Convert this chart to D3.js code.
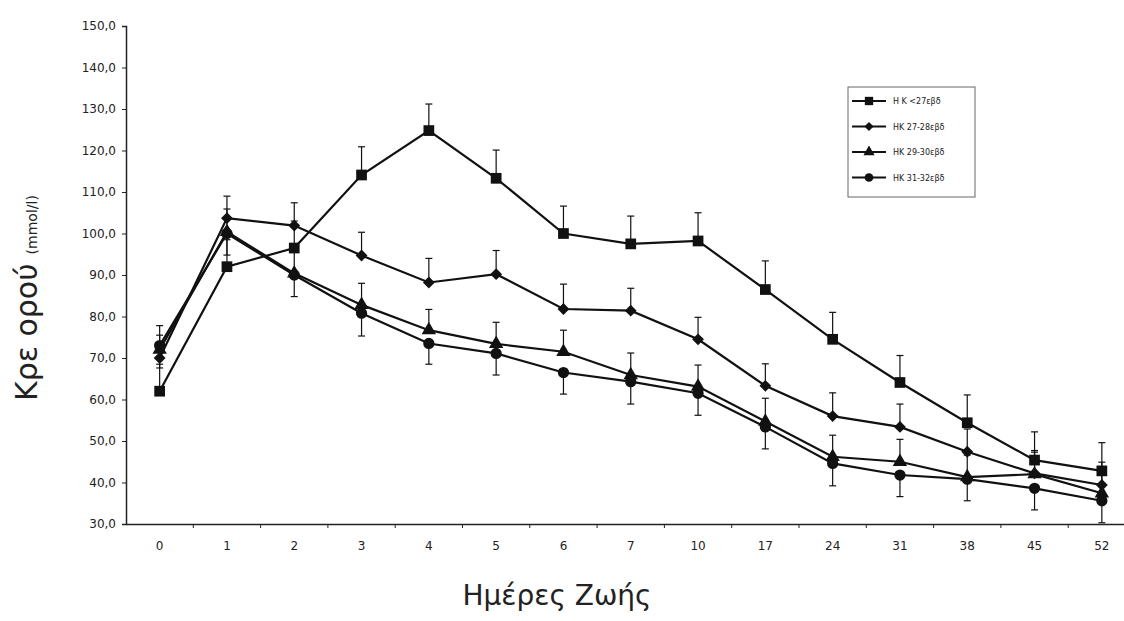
<!DOCTYPE html>
<html>
<head>
<meta charset="utf-8">
<script src="https://cdn.jsdelivr.net/npm/d3@7"></script>
<style>
  html, body { margin: 0; padding: 0; background: #fff; }
  svg { display: block; }
  text { font-family: "DejaVu Sans", Verdana, sans-serif; fill: #222; }
</style>
</head>
<body>
<svg id="chart" width="1124" height="621"></svg>
<script>
// Days of life (categorical x axis)
const days = ["0", "1", "2", "3", "4", "5", "6", "7", "10", "17", "24", "31", "38", "45", "52"];

// Series names (gestational age groups)
const seriesNames = ["H K <27εβδ", "HK 27-28εβδ", "HK 29-30εβδ", "HK 31-32εβδ"];

// Mean serum creatinine per group
const under27   = [62.0, 92.0, 96.5, 114.1, 124.8, 113.3, 100.0, 97.5, 98.2, 86.5, 74.5, 64.1, 54.4, 45.4, 42.8];
const weeks2728 = [70.0, 103.7, 101.9, 94.7, 88.2, 90.2, 81.8, 81.4, 74.5, 63.3, 56.0, 53.4, 47.4, 42.2, 39.4];
const weeks2930 = [72.0, 100.4, 90.4, 82.8, 76.7, 73.4, 71.5, 65.9, 63.1, 54.7, 46.2, 45.0, 41.3, 42.0, 37.4];
const weeks3132 = [73.0, 100.0, 90.0, 80.8, 73.5, 71.1, 66.5, 64.3, 61.5, 53.4, 44.6, 41.8, 40.8, 38.6, 35.6];

// Error bar half-lengths
const err27   = [6.5, 6.5, 6.5, 6.8, 6.4, 6.8, 6.6, 6.7, 6.8, 6.9, 6.5, 6.5, 6.7, 6.8, 6.8];
const err2728 = [5.5, 5.3, 5.5, 5.6, 5.8, 5.7, 6.0, 5.4, 5.3, 5.3, 5.6, 5.5, 5.5, 5.5, 5.5];
const err2930 = [5.8, 5.5, 5.5, 5.2, 5.0, 5.2, 5.2, 5.3, 5.2, 5.6, 5.2, 5.4, 5.3, 5.3, 5.3];
const err3132 = [5.4, 5.2, 5.2, 5.5, 5.0, 5.2, 5.2, 5.4, 5.3, 5.3, 5.4, 5.2, 5.2, 5.2, 5.3];

// Y tick values
const yTicks = [30, 40, 50, 60, 70, 80, 90, 100, 110, 120, 130, 140, 150];

// Square-diamond marker (equal width and height)
const symbolRhomb = {
  draw(ctx, size) {
    const r = Math.sqrt(size / 2);
    ctx.moveTo(0, -r); ctx.lineTo(r, 0); ctx.lineTo(0, r); ctx.lineTo(-r, 0); ctx.closePath();
  }
};

const series = [
  { name: seriesNames[0], values: under27,   err: err27,   dir: 1,  symbol: d3.symbolSquare,   size: 115 },
  { name: seriesNames[1], values: weeks2728, err: err2728, dir: 1,  symbol: symbolRhomb,       size: 70 },
  { name: seriesNames[2], values: weeks2930, err: err2930, dir: 1,  symbol: d3.symbolTriangle, size: 90 },
  { name: seriesNames[3], values: weeks3132, err: err3132, dir: -1, symbol: d3.symbolCircle,   size: 100 }
];

const svg = d3.select("#chart");

const x = d3.scaleBand().domain(days).range([126, 126 + 15 * 67.3]);
const cx = d => x(d) + x.bandwidth() / 2;
const y = d3.scaleLinear().domain([30, 150]).range([524, 26]);

// Y axis
const yAxis = svg.append("g")
  .attr("transform", "translate(126,0)")
  .call(d3.axisLeft(y).tickValues(yTicks).tickSize(4).tickPadding(6)
    .tickFormat(d => d.toFixed(1).replace(".", ",")));
yAxis.select(".domain").attr("stroke", "#222").attr("stroke-width", 1.5);
yAxis.selectAll(".tick line").attr("stroke", "#222");
yAxis.selectAll(".tick text").style("font-size", "12px").attr("fill", "#222");

// X axis: labels at band centers, ticks at band boundaries
const xAxis = svg.append("g")
  .attr("transform", "translate(0,524)")
  .call(d3.axisBottom(x).tickSize(0).tickPadding(17));
xAxis.select(".domain").attr("stroke", "#222").attr("stroke-width", 1.5);
xAxis.selectAll(".tick text").style("font-size", "12px").attr("fill", "#222");
svg.append("g").selectAll("line")
  .data(days.slice(1))
  .join("line")
  .attr("x1", d => x(d)).attr("x2", d => x(d))
  .attr("y1", 524).attr("y2", 528)
  .attr("stroke", "#222").attr("stroke-width", 1);

// Axis titles
svg.append("text")
  .attr("transform", "translate(37,401) rotate(-90)")
  .style("font-size", "30px")
  .attr("fill", "#222")
  .text("Κρε ορού")
  .append("tspan")
  .attr("dx", 9)
  .style("font-size", "14px")
  .text("(mmol/l)");

svg.append("text")
  .attr("x", 557).attr("y", 605)
  .attr("text-anchor", "middle")
  .style("font-size", "28px")
  .attr("fill", "#222")
  .text("Ημέρες Ζωής");

// Error bars
const eb = svg.append("g").attr("stroke", "#111").attr("stroke-width", 1.2);
series.forEach(s => {
  const g = eb.append("g");
  g.selectAll("line.v").data(days).join("line").attr("class", "v")
    .attr("x1", d => cx(d)).attr("x2", d => cx(d))
    .attr("y1", (d, i) => y(s.values[i]))
    .attr("y2", (d, i) => y(s.values[i] + s.dir * s.err[i]));
  g.selectAll("line.c").data(days).join("line").attr("class", "c")
    .attr("x1", d => cx(d) - 3.5).attr("x2", d => cx(d) + 3.5)
    .attr("y1", (d, i) => y(s.values[i] + s.dir * s.err[i]))
    .attr("y2", (d, i) => y(s.values[i] + s.dir * s.err[i]));
});

// Lines and markers
const line = d3.line().x((v, i) => cx(days[i])).y(v => y(v));
series.forEach(s => {
  svg.append("path")
    .datum(s.values)
    .attr("d", line)
    .attr("fill", "none")
    .attr("stroke", "#111")
    .attr("stroke-width", 2.2);
  svg.append("g").selectAll("path")
    .data(s.values)
    .join("path")
    .attr("transform", (v, i) => `translate(${cx(days[i])},${y(v)})`)
    .attr("d", d3.symbol().type(s.symbol).size(s.size))
    .attr("fill", "#111");
});

// Legend
const legend = svg.append("g");
legend.append("rect")
  .attr("x", 848).attr("y", 87).attr("width", 127).attr("height", 110)
  .attr("fill", "#fff").attr("stroke", "#666").attr("stroke-width", 1);
series.forEach((s, i) => {
  const ly = 101 + i * 25.5;
  legend.append("line")
    .attr("x1", 852).attr("x2", 886).attr("y1", ly).attr("y2", ly)
    .attr("stroke", "#111").attr("stroke-width", 2);
  legend.append("path")
    .attr("transform", `translate(869,${ly})`)
    .attr("d", d3.symbol().type(s.symbol).size(s.size * 0.6))
    .attr("fill", "#111");
  legend.append("text")
    .attr("x", 893).attr("y", ly + 3)
    .style("font-size", "8px")
    .attr("fill", "#555")
    .text(s.name);
});
</script>
</body>
</html>
